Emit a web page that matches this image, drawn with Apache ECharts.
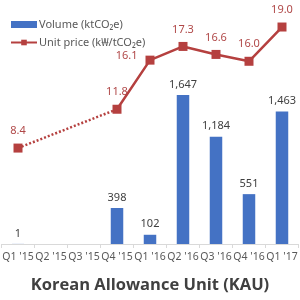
<!DOCTYPE html>
<html><head><meta charset="utf-8">
<script src="https://cdn.jsdelivr.net/npm/echarts@6/dist/echarts.min.js"></script>
<style>html,body{margin:0;padding:0;background:#fff}#c{width:300px;height:300px}</style>
</head><body><div id="c"></div>
<script>
const categories = ["Q1 '15","Q2 '15","Q3 '15","Q4 '15","Q1 '16","Q2 '16","Q3 '16","Q4 '16","Q1 '17"];
const volume = [1, null, null, 398, 102, 1647, 1184, 551, 1463];
const priceDotted = [8.4, '-', '-', 11.8, '-', '-', '-', '-', '-'];
const priceSolid = ['-', '-', '-', 11.8, 16.1, 17.3, 16.6, 16.0, 19.0];
const priceFirst = [8.4, '-', '-', '-', '-', '-', '-', '-', '-'];
const titleText = 'Korean Allowance Unit (KAU)';

const RED = '#B5403F';
const BLUE = '#4472C4';
const lbl = {show: true, position: 'top', distance: 7, fontFamily: 'Noto Sans', fontSize: 11, color: '#B04848',
  formatter: p => p.value.toFixed(1)};
const chart = echarts.init(document.getElementById('c'));
chart.setOption({
  animation: false,
  backgroundColor: '#fff',
  title: {text: titleText, left: 'center', top: 272,
    textStyle: {fontFamily: 'Open Sans', fontSize: 16.5, fontWeight: 'bold', color: '#404040'}},
  legend: {
    orient: 'vertical', left: 5, top: 14, itemWidth: 26, itemHeight: 7, itemGap: 7,
    textStyle: {fontFamily: 'Noto Sans', fontSize: 11, color: '#595959', padding: [0,0,0,-3]},
    data: [{name: 'Volume (ktCO₂e)', icon: 'rect'}, {name: 'Unit price (k₩/tCO₂e)'}]
  },
  grid: {left: -2.1, right: -6.6, top: 15.6, bottom: 56},
  xAxis: {
    type: 'category', data: categories,
    axisLine: {lineStyle: {color: '#d9d9d9'}},
    axisTick: {show: true, lineStyle: {color: '#d9d9d9'}, length: 4},
    axisLabel: {fontFamily: 'Noto Sans', fontSize: 10.5, color: '#595959', margin: 8, interval: 0}
  },
  yAxis: [
    {type: 'value', min: 0, max: 2524, show: false, splitLine: {show: false}},
    {type: 'value', min: 0, max: 20, show: false, splitLine: {show: false}}
  ],
  series: [
    {name: 'Volume (ktCO₂e)', type: 'bar', yAxisIndex: 0, data: volume, barWidth: 12.5,
      itemStyle: {color: BLUE},
      label: {show: true, position: 'top', distance: 5, fontFamily: 'Noto Sans', fontSize: 11, color: '#404040',
        formatter: p => p.value.toLocaleString('en-US')}},
    {name: 'Unit price (k₩/tCO₂e)', type: 'line', yAxisIndex: 1, data: priceSolid,
      symbol: 'rect', symbolSize: 9, lineStyle: {color: RED, width: 2.5}, itemStyle: {color: RED},
      label: Object.assign({}, lbl), z: 4},
    {name: 'dotted', type: 'line', yAxisIndex: 1, data: priceDotted, connectNulls: true,
      symbol: 'none', lineStyle: {color: RED, width: 2.5, type: [2, 2]}, itemStyle: {color: RED}, z: 3},
    {name: 'first', type: 'line', yAxisIndex: 1, data: priceFirst,
      symbol: 'rect', symbolSize: 9, lineStyle: {width: 0}, itemStyle: {color: RED},
      label: Object.assign({}, lbl), z: 4}
  ]
});
// move 16.1 label to the left of its point
const solid = priceSolid.map((v, i) => i === 4 ? {value: v, label: {position: 'left', distance: 8, offset: [0, -4]}} : v);
chart.setOption({series: [{}, {data: solid}]});
</script></body></html>
